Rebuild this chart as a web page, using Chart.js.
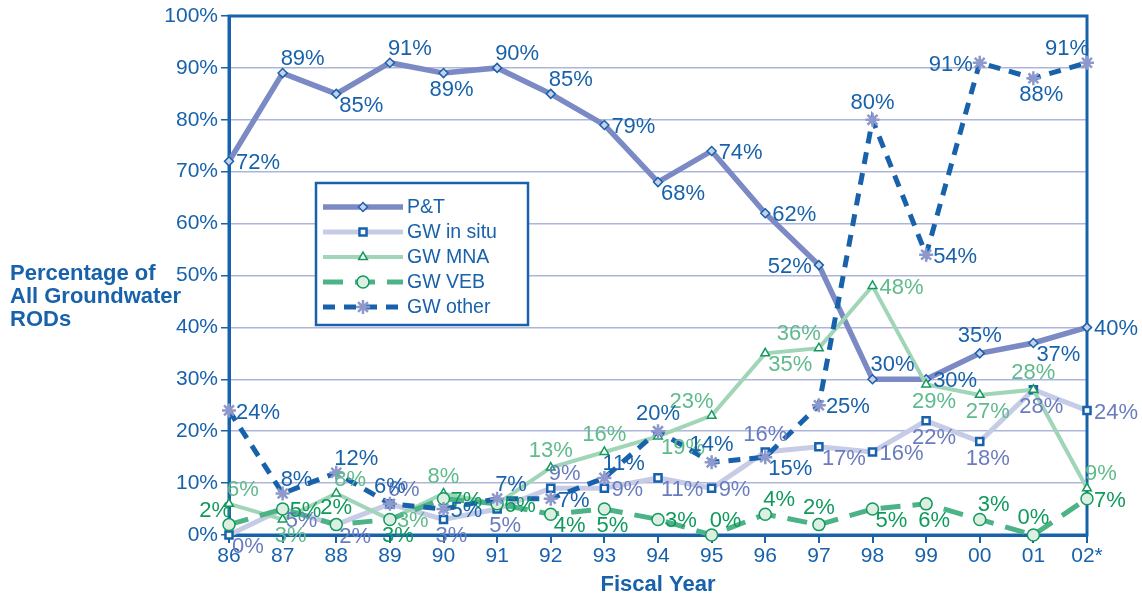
<!DOCTYPE html>
<html>
<head>
<meta charset="utf-8">
<title>Groundwater RODs</title>
<script src="https://cdn.jsdelivr.net/npm/chart.js@4.4.1/dist/chart.umd.min.js"></script>
<style>
  body { margin: 0; background: #fff; }
  #wrap { width: 1142px; height: 599px; position: relative; }
</style>
</head>
<body>
<div id="wrap"><canvas id="myChart"></canvas></div>
<script>
// fiscal years and percentages
const years = ['86', '87', '88', '89', '90', '91', '92', '93', '94', '95', '96', '97', '98', '99', '00', '01', '02*'];
const ptValues = [72, 89, 85, 91, 89, 90, 85, 79, 68, 74, 62, 52, 30, 30, 35, 37, 40];
const inSituValues = [0, 5, 2, 6, 3, 5, 9, 9, 11, 9, 16, 17, 16, 22, 18, 28, 24];
const mnaValues = [6, 3, 8, 3, 8, 6, 13, 16, 19, 23, 35, 36, 48, 29, 27, 28, 9];
const vebValues = [2, 5, 2, 3, 7, 6, 4, 5, 3, 0, 4, 2, 5, 6, 3, 0, 7];
const otherValues = [24, 8, 12, 6, 5, 7, 7, 11, 20, 14, 15, 25, 80, 54, 91, 88, 91];
const yTickValues = [0, 10, 20, 30, 40, 50, 60, 70, 80, 90, 100];

// where each value label sits next to its point ('' = hidden)
const ptPos = ['r', 'tr', 'br', 'tr', 'b', 'tr', 'tr', 'r', 'br', 'r', 'r', 'l', 'tr', 'r', 't', 'br', 'r'];
const inSituPos = ['br', 'br', 'br', 'tr', 'b', 'b', 'tr', 'r', 'br', 'r', 't', 'br', 'r', 'b', 'b', 'b', 'r'];
const mnaPos = ['tr', 'b', 'tr', 'r', 't', '', 't', 't', 'br', 'tl', 'br', 'tl', 'r', 'b', 'b', 't', 'tr'];
const vebPos = ['tl', 'r', 't', 'b', 'r', 'r', 'br', 'b', 'r', 'tr', 'tr', 't', 'br', 'b', 'tr', 't', 'r'];
const otherPos = ['r', 'tr', 'tr', 't', 'r', 'tr', 'r', 'tr', 't', 't', 'br', 'r', 't', 'r', 'l', 'b', 'tl'];

const BLUE = '#1862ab';
const FONT = '"Liberation Sans", Arial, Helvetica, sans-serif';
Chart.defaults.font.family = FONT;

function labelSpot(code, x, y) {
    switch (code) {
        case 'r': return { x: x + 7, y: y + 2, align: 'left' };
        case 'l': return { x: x - 7, y: y + 2, align: 'right' };
        case 't': return { x: x, y: y - 17, align: 'center' };
        case 'b': return { x: x + 8, y: y + 17, align: 'center' };
        case 'tr': return { x: x - 2, y: y - 14, align: 'left' };
        case 'br': return { x: x + 3, y: y + 12, align: 'left' };
        case 'tl': return { x: x + 2, y: y - 14, align: 'right' };
    }
    return null;
}

const valueLabels = {
    id: 'valueLabels',
    afterDatasetsDraw(chart) {
        const ctx = chart.ctx;
        ctx.save();
        ctx.font = '22px ' + FONT;
        ctx.textBaseline = 'middle';
        chart.data.datasets.forEach((ds, i) => {
            const meta = chart.getDatasetMeta(i);
            ctx.fillStyle = ds.labelColor;
            meta.data.forEach((pt, j) => {
                const s = labelSpot(ds.labelPos[j], pt.x, pt.y);
                if (!s) return;
                ctx.textAlign = s.align;
                ctx.fillText(ds.data[j] + '%', s.x, s.y);
            });
        });
        ctx.restore();
    }
};

const frameAndTitles = {
    id: 'frameAndTitles',
    beforeDatasetsDraw(chart) {
        const a = chart.chartArea;
        const ctx = chart.ctx;
        ctx.save();
        ctx.strokeStyle = BLUE;
        ctx.lineWidth = 3;
        ctx.strokeRect(a.left, a.top, a.right - a.left, a.bottom - a.top);
        ctx.restore();
    },
    afterDraw(chart) {
        const a = chart.chartArea;
        const ctx = chart.ctx;
        ctx.save();
        ctx.fillStyle = BLUE;
        ctx.font = 'bold 22px ' + FONT;
        ctx.textBaseline = 'middle';
        ctx.textAlign = 'left';
        ['Percentage of', 'All Groundwater', 'RODs'].forEach((t, i) => {
            ctx.fillText(t, 10, 274 + i * 23);
        });
        ctx.textAlign = 'center';
        ctx.fillText('Fiscal Year', (a.left + a.right) / 2, 585);

        // legend box
        const bx = 316, by = 183, bw = 212, bh = 142;
        ctx.fillStyle = '#fff';
        ctx.fillRect(bx, by, bw, bh);
        ctx.strokeStyle = BLUE;
        ctx.lineWidth = 2.5;
        ctx.strokeRect(bx, by, bw, bh);
        ctx.font = '19.5px ' + FONT;
        ctx.textAlign = 'left';
        chart.data.datasets.forEach((ds, i) => {
            const y = by + 24 + i * 25;
            ctx.save();
            ctx.strokeStyle = ds.borderColor;
            ctx.lineWidth = ds.borderWidth;
            ctx.setLineDash(ds.borderDash || []);
            ctx.beginPath();
            ctx.moveTo(bx + 7, y);
            ctx.lineTo(bx + 87, y);
            ctx.stroke();
            ctx.setLineDash([]);
            ctx.fillStyle = ds.pointBackgroundColor;
            ctx.strokeStyle = ds.pointBorderColor;
            ctx.lineWidth = ds.pointBorderWidth;
            Chart.helpers.drawPoint(ctx, {
                pointStyle: ds.pointStyle, radius: ds.pointRadius, rotation: 0,
                borderWidth: ds.pointBorderWidth
            }, bx + 47, y);
            ctx.restore();
            ctx.fillStyle = BLUE;
            ctx.fillText(ds.label, bx + 91, y + 1);
        });
        ctx.restore();
    }
};

let ctx = document.getElementById('myChart').getContext('2d');
let chart = new Chart(ctx, {
    type: 'line',
    data: {
        labels: years,
        datasets: [{
            label: 'P&T',
            data: ptValues,
            labelPos: ptPos,
            labelColor: BLUE,
            borderColor: '#7b8ac4',
            borderWidth: 5.5,
            pointStyle: 'rectRot',
            pointRadius: 4.5,
            pointBorderWidth: 1.5,
            pointBorderColor: BLUE,
            pointBackgroundColor: '#c9d0ea',
            order: 5
        }, {
            label: 'GW in situ',
            data: inSituValues,
            labelPos: inSituPos,
            labelColor: '#6a7cc0',
            borderColor: '#c6cbe6',
            borderWidth: 5,
            pointStyle: 'rect',
            pointRadius: 5,
            pointBorderWidth: 2.5,
            pointBorderColor: BLUE,
            pointBackgroundColor: '#ffffff',
            order: 4
        }, {
            label: 'GW MNA',
            data: mnaValues,
            labelPos: mnaPos,
            labelColor: '#5fba8c',
            borderColor: '#a0d5b7',
            borderWidth: 4,
            pointStyle: 'triangle',
            pointRadius: 5,
            pointBorderWidth: 1.5,
            pointBorderColor: '#129a5c',
            pointBackgroundColor: '#ffffff',
            order: 3
        }, {
            label: 'GW VEB',
            data: vebValues,
            labelPos: vebPos,
            labelColor: '#0f9a5c',
            borderColor: '#4cb387',
            borderWidth: 5,
            borderDash: [20, 12],
            pointStyle: 'circle',
            pointRadius: 6,
            pointBorderWidth: 1.5,
            pointBorderColor: '#129a5c',
            pointBackgroundColor: '#dcefe2',
            order: 2
        }, {
            label: 'GW other',
            data: otherValues,
            labelPos: otherPos,
            labelColor: BLUE,
            borderColor: BLUE,
            borderWidth: 5,
            borderDash: [12, 9],
            pointStyle: 'star',
            pointRadius: 7,
            pointBorderWidth: 2.5,
            pointBorderColor: '#8d98cc',
            pointBackgroundColor: '#8d98cc',
            order: 1
        }]
    },
    options: {
        responsive: true,
        maintainAspectRatio: false,
        animation: false,
        clip: false,
        elements: { line: { tension: 0, borderCapStyle: 'butt' } },
        layout: { padding: { top: 16, right: 55, left: 0, bottom: 0 } },
        plugins: { legend: { display: false }, tooltip: { enabled: false } },
        datasets: { line: { clip: false } },
        scales: {
            x: {
                offset: false,
                afterFit: (s) => { s.height = 64; },
                grid: { drawOnChartArea: false, drawTicks: true, tickLength: 8, tickColor: BLUE, lineWidth: 2 },
                border: { color: BLUE, width: 3 },
                ticks: { color: BLUE, font: { size: 21 }, padding: 1, maxRotation: 0, autoSkip: false }
            },
            y: {
                min: 0,
                max: 100,
                afterFit: (s) => { s.width = 229; },
                afterBuildTicks: (s) => { s.ticks = yTickValues.map(v => ({ value: v })); },
                grid: { color: '#aeb5da', lineWidth: 1.5, tickLength: 8, tickColor: BLUE },
                border: { color: BLUE, width: 3 },
                ticks: { color: BLUE, font: { size: 21 }, padding: 3, callback: (v) => v + '%' }
            }
        }
    },
    plugins: [frameAndTitles, valueLabels]
});
</script>
</body>
</html>
